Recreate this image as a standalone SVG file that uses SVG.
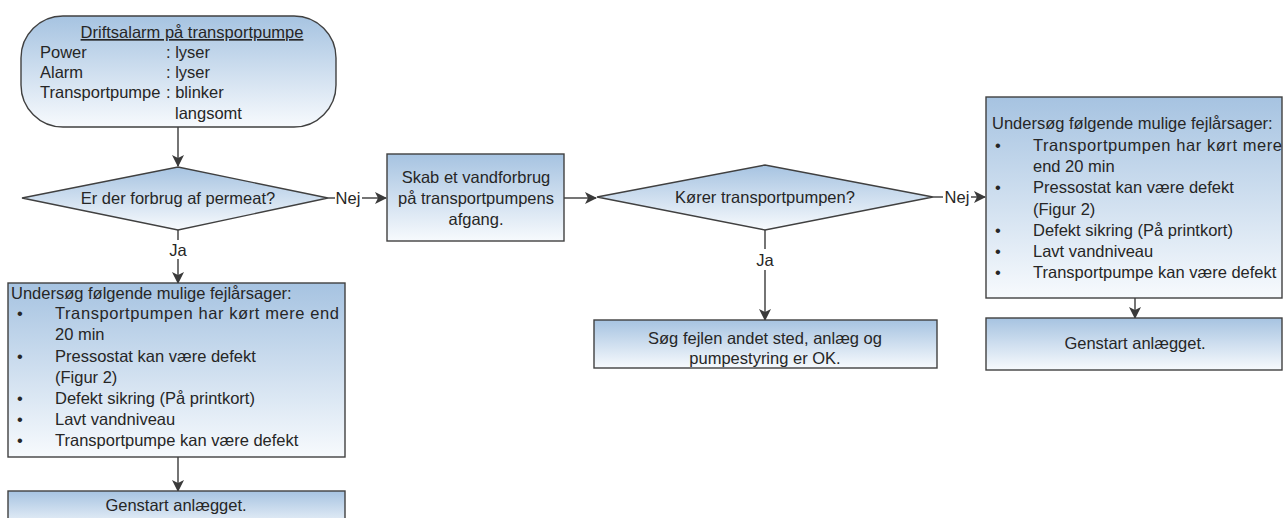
<svg xmlns="http://www.w3.org/2000/svg" width="1284" height="518" viewBox="0 0 1284 518">
<defs>
<linearGradient id="g" x1="0" y1="0" x2="0" y2="1">
<stop offset="0" stop-color="#a6c3e1"/>
<stop offset="1" stop-color="#f7fafd"/>
</linearGradient>
<marker id="ah" markerWidth="12" markerHeight="12" refX="11" refY="6" orient="auto" markerUnits="userSpaceOnUse">
<path d="M0,0 L12,6 L0,12 L3,6 Z" fill="#3a3a3a"/>
</marker>
<style>
.n{fill:url(#g);stroke:#404040;stroke-width:1.4}
.t{font-family:"Liberation Sans",Arial,sans-serif;font-size:16.5px;fill:#262626}
.c{text-anchor:middle}
.l{fill:none;stroke:#3a3a3a;stroke-width:1.4}
</style>
</defs>
<rect width="1284" height="518" fill="#ffffff"/>

<g id="connectors">
<path class="l" d="M178,127 V166" marker-end="url(#ah)"/>
<path class="l" d="M328,198 H335"/>
<path class="l" d="M362,198 H386" marker-end="url(#ah)"/>
<path class="l" d="M564,198 H596" marker-end="url(#ah)"/>
<path class="l" d="M178,230 V240"/>
<path class="l" d="M178,259 V283" marker-end="url(#ah)"/>
<path class="l" d="M765,230 V249"/>
<path class="l" d="M765,270 V320" marker-end="url(#ah)"/>
<path class="l" d="M933,197 H943"/>
<path class="l" d="M971,197 H985" marker-end="url(#ah)"/>
<path class="l" d="M1135,298 V318" marker-end="url(#ah)"/>
<path class="l" d="M178,457 V491" marker-end="url(#ah)"/>
<text class="t c" x="348" y="204">Nej</text>
<text class="t c" x="957" y="203">Nej</text>
<text class="t c" x="178" y="256">Ja</text>
<text class="t c" x="765" y="266">Ja</text>
</g>

<g id="start">
<rect class="n" x="21" y="16" width="315" height="111" rx="42" ry="42"/>
<text class="t c" x="192" y="38" text-decoration="underline">Driftsalarm på transportpumpe</text>
<text class="t" x="40" y="58">Power</text>
<text class="t" x="166" y="58">: lyser</text>
<text class="t" x="40" y="78">Alarm</text>
<text class="t" x="166" y="78">: lyser</text>
<text class="t" x="40" y="98">Transportpumpe</text>
<text class="t" x="166" y="98">: blinker</text>
<text class="t" x="175" y="119">langsomt</text>
</g>

<g id="d1">
<polygon class="n" points="22,198 178,167 328,198 178,230"/>
<text class="t c" x="178" y="204">Er der forbrug af permeat?</text>
</g>

<g id="b2">
<rect class="n" x="387" y="154" width="177" height="87"/>
<text class="t c" x="476" y="183">Skab et vandforbrug</text>
<text class="t c" x="476" y="204">på transportpumpens</text>
<text class="t c" x="476" y="225">afgang.</text>
</g>

<g id="d2">
<polygon class="n" points="597,197 765,165 933,197 765,230"/>
<text class="t c" x="765" y="203">Kører transportpumpen?</text>
</g>

<g id="left-causes">
<rect class="n" x="8" y="283" width="337" height="174"/>
<text class="t" x="11" y="299">Undersøg følgende mulige fejlårsager:</text>
<text class="t" x="17" y="319">•</text>
<text class="t" x="55" y="319" textLength="284" lengthAdjust="spacing">Transportpumpen har kørt mere end</text>
<text class="t" x="55" y="340">20 min</text>
<text class="t" x="17" y="362">•</text>
<text class="t" x="55" y="362">Pressostat kan være defekt</text>
<text class="t" x="55" y="383">(Figur 2)</text>
<text class="t" x="17" y="404">•</text>
<text class="t" x="55" y="404">Defekt sikring (På printkort)</text>
<text class="t" x="17" y="425">•</text>
<text class="t" x="55" y="425">Lavt vandniveau</text>
<text class="t" x="17" y="446">•</text>
<text class="t" x="55" y="446">Transportpumpe kan være defekt</text>
</g>

<g id="left-restart">
<rect class="n" x="8" y="491" width="337" height="40"/>
<text class="t c" x="176" y="511">Genstart anlægget.</text>
</g>

<g id="mid-ok">
<rect class="n" x="594" y="320" width="343" height="48"/>
<text class="t c" x="765" y="344">Søg fejlen andet sted, anlæg og</text>
<text class="t c" x="765" y="364">pumpestyring er OK.</text>
</g>

<g id="right-causes">
<rect class="n" x="986" y="97" width="296" height="201"/>
<text class="t" x="992" y="129">Undersøg følgende mulige fejlårsager:</text>
<text class="t" x="995" y="151">•</text>
<text class="t" x="1033" y="151" textLength="249" lengthAdjust="spacing">Transportpumpen har kørt mere</text>
<text class="t" x="1033" y="172">end 20 min</text>
<text class="t" x="995" y="193">•</text>
<text class="t" x="1033" y="193">Pressostat kan være defekt</text>
<text class="t" x="1033" y="215">(Figur 2)</text>
<text class="t" x="995" y="236">•</text>
<text class="t" x="1033" y="236">Defekt sikring (På printkort)</text>
<text class="t" x="995" y="257">•</text>
<text class="t" x="1033" y="257">Lavt vandniveau</text>
<text class="t" x="995" y="278">•</text>
<text class="t" x="1033" y="278">Transportpumpe kan være defekt</text>
</g>

<g id="right-restart">
<rect class="n" x="986" y="318" width="296" height="52"/>
<text class="t c" x="1135" y="349">Genstart anlægget.</text>
</g>
</svg>
